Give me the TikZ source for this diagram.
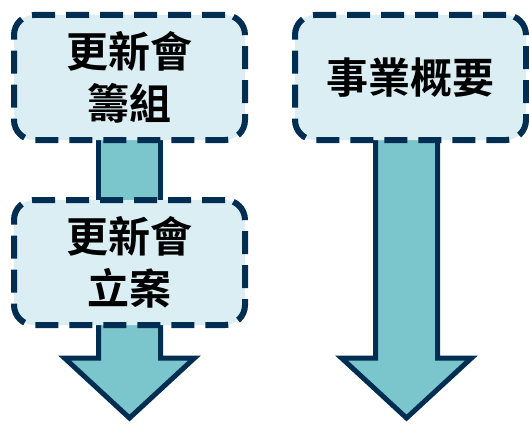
\documentclass[tikz,border=0pt]{standalone}
\usepackage{fontspec}
\newfontfamily\cjk[BoldFont={Noto Sans CJK TC Bold}]{Noto Sans CJK TC}
\usetikzlibrary{positioning}
\usetikzlibrary{backgrounds}
\definecolor{marine}{HTML}{002D52}
\definecolor{glace}{HTML}{DAEEF3}
\definecolor{sarcelle}{HTML}{7BC5CC}
\tikzstyle{etape}=[
  draw=marine,
  line width=6pt,
  outer sep=3pt,
  dash pattern=on 23pt off 11pt,
  rounded corners=20pt,
  fill=glace,
  minimum width=231pt,
  minimum height=125pt,
  align=center,
  font=\cjk\bfseries\fontsize{42}{52}\selectfont
]
\tikzstyle{fleche}=[
  draw=marine,
  line width=5pt,
  fill=sarcelle,
  line join=miter
]

\begin{document}
\begin{tikzpicture}[x=1pt,y=-1pt]
    \useasboundingbox (0,0) rectangle (529,425);
    \node[etape] (renew1) at (129.5,77.5) {更新會\\籌組} ;
    \node[etape,below=54pt of renew1] (renew2) {更新會\\立案} ;
    \node[etape,right=44pt of renew1] (business) {事業概要} ;
    % fleches sous les cadres
    \begin{scope}[on background layer]
    \draw[fleche] ([xshift=-31pt,yshift=6pt]renew1.south) rectangle ([xshift=31pt,yshift=-6pt]renew2.north);
    \draw[fleche] ([xshift=-31pt,yshift=4pt]renew2.south) -- ++(0,34) -- ++(-34,0) -- ++(65,60) -- ++(65,-60) -- ++(-34,0) -- ++(0,-34);
    \draw[fleche] ([xshift=-35pt,yshift=4pt]business.south) -- ++(0,219) -- ++(-34,0) -- ++(65,60) -- ++(65,-60) -- ++(-34,0) -- ++(0,-219);
    \end{scope}
  \end{tikzpicture}
\end{document}
